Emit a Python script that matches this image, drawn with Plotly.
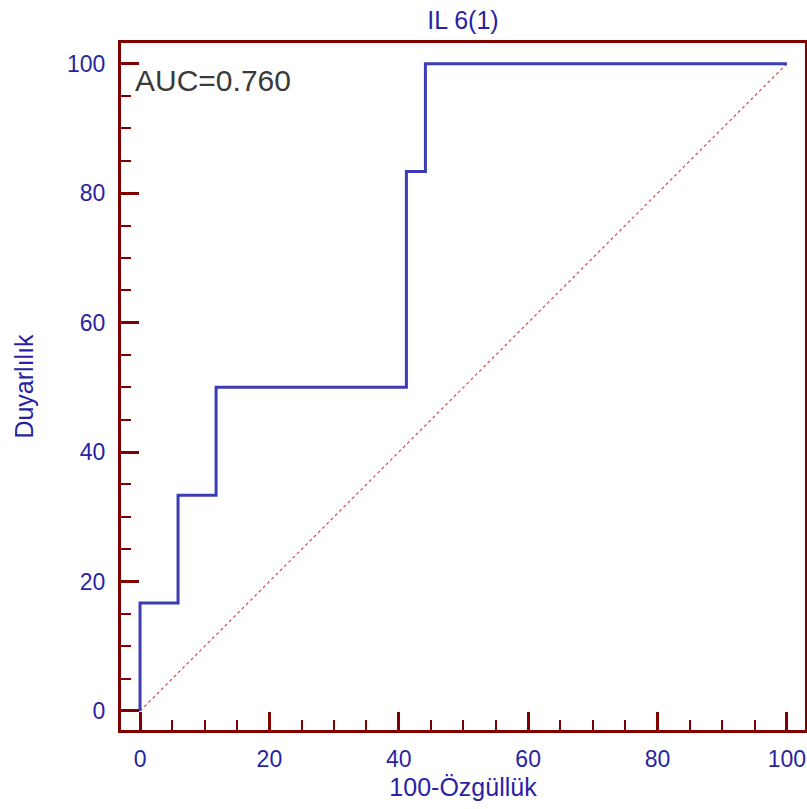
import plotly.graph_objects as go

# ROC curve data (100-Specificity, Sensitivity)
fpr = [0, 0, 5.88, 5.88, 11.76, 11.76, 41.18, 41.18, 44.12, 44.12, 100]
tpr = [0, 16.67, 16.67, 33.33, 33.33, 50.0, 50.0, 83.33, 83.33, 100, 100]
diag_x = [0, 100]
diag_y = [0, 100]
tick_vals = [0, 20, 40, 60, 80, 100]
tick_text = ["0", "20", "40", "60", "80", "100"]
auc_label = "AUC=0.760"
chart_title = "IL 6(1)"
x_title = "100-Özgüllük"
y_title = "Duyarlılık"

MAROON = "#800000"
TEXT_BLUE = "#2a1fa5"
LINE_BLUE = "#3c3cb4"
FONT = "Liberation Sans, Arial"

fig = go.Figure()
fig.add_trace(go.Scatter(x=diag_x, y=diag_y, mode="lines",
                         line=dict(color="#c85050", width=1.2, dash="dot"),
                         hoverinfo="skip", showlegend=False))
fig.add_trace(go.Scatter(x=fpr, y=tpr, mode="lines",
                         line=dict(color=LINE_BLUE, width=3),
                         showlegend=False))

axis_common = dict(
    showgrid=False, zeroline=False, automargin=False,
    showline=True, mirror=True, linecolor=MAROON, linewidth=3,
    ticks="inside", ticklen=18, tickwidth=3, tickcolor=MAROON,
    tickvals=tick_vals, ticktext=tick_text,
    tickfont=dict(family=FONT, size=23, color=TEXT_BLUE),
    minor=dict(dtick=5, tick0=0, ticks="inside", ticklen=10, tickwidth=2, tickcolor=MAROON),
)

fig.update_layout(
    width=807, height=809,
    paper_bgcolor="white", plot_bgcolor="white",
    margin=dict(l=121, r=2, t=43, b=79),
    xaxis=dict(range=[-2.94, 102.8],
               title=dict(text=x_title, standoff=8,
                          font=dict(family=FONT, size=25, color=TEXT_BLUE)),
               ticklabelstandoff=6,
               **axis_common),
    yaxis=dict(range=[-2.94, 103.2],
               title=dict(text=y_title, standoff=27,
                          font=dict(family=FONT, size=25, color=TEXT_BLUE)),
               ticklabelstandoff=8,
               **axis_common),
    title=dict(text=chart_title, x=463/807, xanchor="center", xref="container",
               y=1 - 20/809, yanchor="middle", yref="container",
               font=dict(family=FONT, size=25, color=TEXT_BLUE)),
    annotations=[dict(text=auc_label, xref="paper", yref="paper",
                      x=(133 - 121) / 684, y=(730 - 80) / 687,
                      xanchor="left", yanchor="middle", showarrow=False,
                      font=dict(family=FONT, size=30, color="#3a3a3a"))],
)

fig.write_html("out.html",
               config={"displayModeBar": False},
               post_script="document.body.style.margin='0px';document.body.style.overflow='hidden';")
